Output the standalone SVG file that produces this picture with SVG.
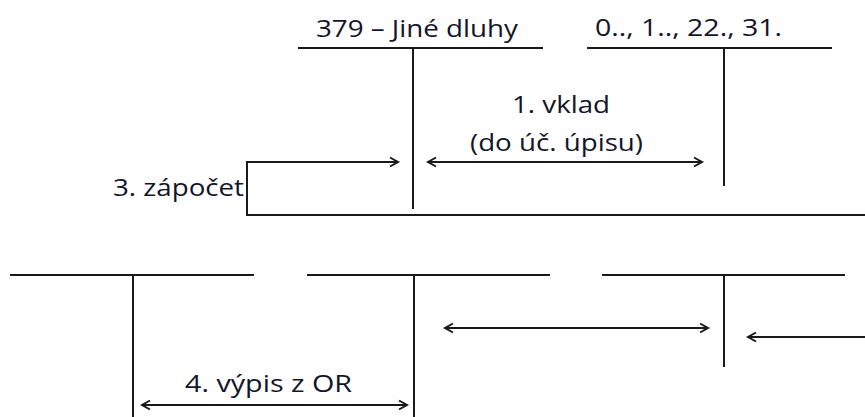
<svg xmlns="http://www.w3.org/2000/svg" width="865" height="417" viewBox="0 0 865 417">
<style>
  .ln { stroke: #1a1a1a; stroke-width: 2; fill: none; }
  .ar { stroke: #1a1a1a; stroke-width: 2; fill: none; }
  .tx { font-family: "Open Sans", "Liberation Sans", sans-serif; font-size: 23px; fill: #14142a; }
</style>
<defs>
  <marker id="head" markerUnits="userSpaceOnUse" markerWidth="12" markerHeight="12" refX="9" refY="6" orient="auto-start-reverse">
    <path d="M1,1.5 L9,6 L1,10.5" fill="none" stroke="#1a1a1a" stroke-width="2"/>
  </marker>
</defs>
<rect width="865" height="417" fill="#ffffff"/>

<g id="acc-379">
  <line class="ln" x1="298" y1="48" x2="543" y2="48"/>
  <line class="ln" x1="413" y1="48" x2="413" y2="209"/>
  <text class="tx" x="316" y="37" textLength="202" lengthAdjust="spacingAndGlyphs">379 – Jiné dluhy</text>
</g>

<g id="acc-assets">
  <line class="ln" x1="587" y1="48" x2="832" y2="48"/>
  <line class="ln" x1="724" y1="48" x2="724" y2="186"/>
  <text class="tx" x="595" y="36" textLength="187" lengthAdjust="spacingAndGlyphs">0.., 1.., 22., 31.</text>
</g>

<g id="acc-bottom-left">
  <line class="ln" x1="10" y1="275" x2="254" y2="275"/>
  <line class="ln" x1="133" y1="275" x2="133" y2="417"/>
</g>

<g id="acc-bottom-mid">
  <line class="ln" x1="307" y1="275" x2="550" y2="275"/>
  <line class="ln" x1="414" y1="275" x2="414" y2="417"/>
</g>

<g id="acc-bottom-right">
  <line class="ln" x1="602" y1="275" x2="845" y2="275"/>
  <line class="ln" x1="724" y1="275" x2="724" y2="367"/>
</g>

<g id="connectors">
  <polyline class="ar" points="865,215 247,215 247,162 398,162" marker-end="url(#head)"/>
  <line class="ar" x1="428" y1="162" x2="702" y2="162" marker-start="url(#head)" marker-end="url(#head)"/>
  <line class="ar" x1="445" y1="328" x2="708" y2="328" marker-start="url(#head)" marker-end="url(#head)"/>
  <line class="ar" x1="865" y1="337" x2="748" y2="337" marker-end="url(#head)"/>
  <line class="ar" x1="142" y1="405" x2="407" y2="405" marker-start="url(#head)" marker-end="url(#head)"/>
  <text class="tx" x="512" y="113" textLength="98" lengthAdjust="spacingAndGlyphs">1. vklad</text>
  <text class="tx" x="470" y="151" textLength="173" lengthAdjust="spacingAndGlyphs">(do úč. úpisu)</text>
  <text class="tx" x="113" y="196" textLength="131" lengthAdjust="spacingAndGlyphs">3. zápočet</text>
  <text class="tx" x="185" y="392" textLength="167" lengthAdjust="spacingAndGlyphs">4. výpis z OR</text>
</g>
</svg>
